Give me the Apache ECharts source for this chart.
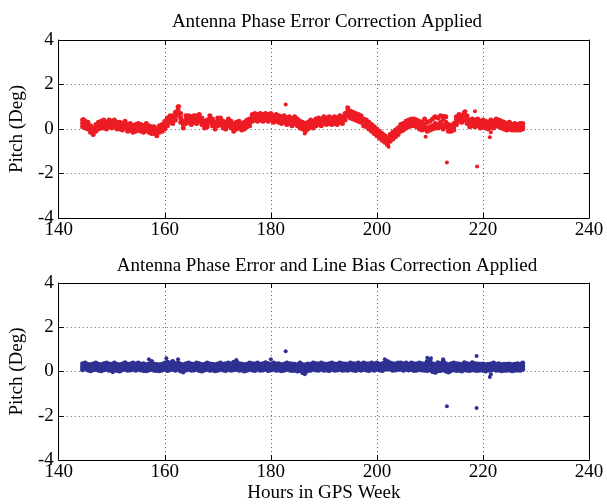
<!DOCTYPE html>
<html><head><meta charset="utf-8">
<script src="https://cdn.jsdelivr.net/npm/echarts@6/dist/echarts.min.js"></script>
<style>html,body{margin:0;padding:0;background:#fff}#c{width:607px;height:504px}</style>
</head><body><div id="c"></div>
<script>
// ---- data ----
const titles = ['Antenna Phase Error Correction Applied', 'Antenna Phase Error and Line Bias Correction Applied'];
const xLabel = 'Hours in GPS Week';
const yLabel = 'Pitch (Deg)';
const xTicks = [140, 160, 180, 200, 220, 240];
const yTicks = [-4, -2, 0, 2, 4];
const hourStart = 144.5, hourStep = 0.5;   // sampling grid of the dense tracks

// top panel: three hand-read rows through the dot cloud (mid, upper, lower)
const topMid = [
0.25,0.2,0.15,0.0,-0.1,0.05,0.15,0.2,0.2,0.15,
0.25,0.2,0.25,0.15,0.15,0.1,0.2,0.05,0.1,0.0,
0.05,0.1,0.05,0.0,0.1,0.0,-0.05,-0.05,-0.15,0.0,
0.05,0.15,0.3,0.45,0.4,0.55,0.85,0.5,0.2,0.4,
0.45,0.35,0.45,0.4,0.5,0.35,0.2,0.25,0.45,0.3,
0.15,0.3,0.35,0.2,0.15,0.3,0.2,0.05,0.15,0.2,
0.1,0.15,0.25,0.3,0.5,0.55,0.5,0.55,0.5,0.55,
0.5,0.55,0.45,0.5,0.45,0.4,0.45,0.35,0.4,0.3,
0.4,0.3,0.2,0.15,0.05,0.15,0.25,0.2,0.3,0.35,
0.3,0.4,0.35,0.4,0.35,0.4,0.35,0.45,0.4,0.55,
0.8,0.65,0.6,0.55,0.5,0.45,0.3,0.25,0.15,0.05,
-0.05,-0.15,-0.25,-0.35,-0.45,-0.55,-0.4,-0.3,-0.2,-0.1,
0.05,0.1,0.2,0.25,0.3,0.3,0.25,0.15,0.1,0.2,
0.05,0.1,0.15,0.25,0.2,0.3,0.15,0.3,0.05,0.0,
0.1,0.4,0.5,0.45,0.55,0.4,0.25,0.3,0.25,0.3,
0.2,0.25,0.2,0.15,0.25,0.2,0.3,0.25,0.2,0.15,
0.1,0.15,0.05,0.1,0.05,0.1,0.1];
const topHi = [
0.4,0.35,0.3,0.15,0.05,0.2,0.3,0.35,0.4,0.3,
0.4,0.35,0.4,0.3,0.3,0.25,0.35,0.2,0.25,0.15,
0.2,0.25,0.2,0.15,0.25,0.15,0.1,0.1,0.0,0.15,
0.2,0.35,0.5,0.6,0.6,0.75,1.0,0.7,0.35,0.6,
0.6,0.55,0.6,0.6,0.65,0.5,0.35,0.4,0.6,0.45,
0.3,0.5,0.5,0.35,0.3,0.45,0.35,0.2,0.3,0.35,
0.25,0.3,0.4,0.45,0.65,0.7,0.65,0.7,0.65,0.7,
0.65,0.7,0.6,0.65,0.6,0.55,0.6,0.5,0.55,0.45,
0.55,0.45,0.35,0.3,0.25,0.3,0.4,0.35,0.45,0.5,
0.45,0.55,0.5,0.55,0.5,0.55,0.5,0.6,0.55,0.7,
0.95,0.8,0.75,0.7,0.65,0.6,0.45,0.4,0.3,0.2,
0.1,0.0,-0.1,-0.2,-0.3,-0.4,-0.25,-0.15,-0.05,0.05,
0.2,0.25,0.35,0.4,0.45,0.45,0.4,0.35,0.3,0.45,
0.3,0.35,0.45,0.55,0.5,0.6,0.45,0.55,0.2,0.15,
0.25,0.55,0.65,0.6,0.75,0.6,0.4,0.45,0.4,0.45,
0.35,0.4,0.35,0.3,0.4,0.35,0.45,0.4,0.35,0.3,
0.25,0.3,0.2,0.25,0.2,0.25,0.25];
const topLo = [
0.1,0.05,0.0,-0.15,-0.25,-0.1,0.0,0.05,0.05,0.0,
0.1,0.05,0.1,0.0,0.0,-0.05,0.05,-0.1,-0.05,-0.15,
-0.1,-0.05,-0.1,-0.15,-0.05,-0.15,-0.2,-0.2,-0.3,-0.15,
-0.1,0.0,0.15,0.3,0.25,0.4,0.65,0.3,0.05,0.25,
0.3,0.2,0.3,0.25,0.35,0.2,0.05,0.1,0.3,0.15,
0.0,0.15,0.2,0.05,0.0,0.15,0.05,-0.1,0.0,0.05,
-0.05,0.0,0.1,0.15,0.35,0.4,0.35,0.4,0.35,0.4,
0.35,0.4,0.3,0.35,0.3,0.25,0.3,0.2,0.25,0.15,
0.25,0.15,0.05,0.0,-0.1,0.0,0.1,0.05,0.15,0.2,
0.15,0.25,0.2,0.25,0.2,0.25,0.2,0.3,0.25,0.4,
0.6,0.5,0.45,0.4,0.35,0.3,0.15,0.1,0.0,-0.1,
-0.2,-0.3,-0.4,-0.5,-0.6,-0.7,-0.55,-0.45,-0.35,-0.25,
-0.1,-0.05,0.05,0.1,0.15,0.15,0.1,0.0,-0.05,0.0,
-0.1,-0.05,0.0,0.05,0.05,0.1,0.0,0.1,-0.1,-0.1,
-0.05,0.2,0.35,0.3,0.4,0.25,0.1,0.15,0.1,0.15,
0.05,0.1,0.05,0.0,0.1,0.05,0.15,0.1,0.05,0.0,
-0.05,0.0,-0.05,-0.05,-0.05,-0.05,0.0];
const topOutlierHours  = [182.8, 213.2, 218.9, 221.3, 221.5, 216.7, 209.2, 186.4, 162.7, 202.2, 210.8, 212.6, 218.5, 144.7];
const topOutlierValues = [1.1, -1.5, -1.68, -0.37, -0.15, 0.8, -0.35, -0.2, 1.02, -0.8, 0.55, 0.6, 0.8, 0.45];

// bottom panel
const botMid = [
0.2,0.25,0.2,0.15,0.2,0.25,0.2,0.15,0.2,0.25,
0.2,0.2,0.25,0.2,0.15,0.2,0.25,0.2,0.2,0.25,
0.2,0.25,0.2,0.2,0.15,0.2,0.25,0.2,0.2,0.15,
0.2,0.25,0.2,0.25,0.3,0.2,0.25,0.2,0.15,0.2,
0.25,0.2,0.2,0.25,0.2,0.15,0.2,0.25,0.2,0.2,
0.15,0.2,0.25,0.2,0.2,0.25,0.2,0.25,0.3,0.2,
0.2,0.15,0.2,0.25,0.2,0.2,0.25,0.2,0.2,0.25,
0.2,0.2,0.25,0.2,0.2,0.15,0.2,0.25,0.2,0.2,
0.2,0.15,0.2,0.1,0.15,0.2,0.2,0.25,0.2,0.2,
0.25,0.2,0.2,0.2,0.25,0.2,0.2,0.25,0.2,0.2,
0.2,0.25,0.2,0.2,0.25,0.2,0.25,0.2,0.2,0.25,
0.2,0.25,0.2,0.2,0.25,0.3,0.25,0.2,0.2,0.25,
0.25,0.2,0.25,0.2,0.25,0.2,0.2,0.25,0.2,0.2,
0.25,0.3,0.2,0.15,0.2,0.2,0.25,0.2,0.15,0.2,
0.25,0.2,0.2,0.15,0.25,0.2,0.2,0.25,0.2,0.2,
0.2,0.2,0.15,0.2,0.2,0.25,0.2,0.2,0.15,0.2,
0.2,0.2,0.15,0.2,0.2,0.2,0.25];
const botHi = [
0.35,0.38,0.32,0.3,0.34,0.38,0.33,0.3,0.35,0.38,
0.34,0.33,0.38,0.32,0.3,0.34,0.4,0.33,0.34,0.38,
0.34,0.38,0.33,0.35,0.3,0.34,0.45,0.33,0.32,0.3,
0.33,0.38,0.42,0.38,0.45,0.35,0.4,0.33,0.3,0.35,
0.38,0.34,0.33,0.38,0.35,0.3,0.33,0.38,0.34,0.33,
0.3,0.34,0.38,0.33,0.35,0.38,0.34,0.42,0.45,0.35,
0.34,0.3,0.33,0.38,0.35,0.34,0.38,0.33,0.35,0.4,
0.35,0.33,0.38,0.34,0.35,0.3,0.33,0.38,0.35,0.34,
0.33,0.3,0.38,0.3,0.3,0.34,0.33,0.38,0.35,0.34,
0.38,0.34,0.33,0.35,0.38,0.34,0.33,0.38,0.35,0.34,
0.33,0.38,0.35,0.34,0.38,0.33,0.38,0.35,0.34,0.38,
0.34,0.38,0.33,0.35,0.4,0.45,0.38,0.35,0.34,0.38,
0.38,0.34,0.38,0.33,0.38,0.35,0.34,0.38,0.35,0.34,
0.45,0.48,0.35,0.3,0.4,0.35,0.45,0.35,0.3,0.35,
0.38,0.35,0.34,0.3,0.4,0.35,0.33,0.4,0.35,0.34,
0.33,0.34,0.3,0.33,0.34,0.38,0.33,0.35,0.3,0.33,
0.33,0.34,0.3,0.33,0.35,0.33,0.38];
const botLo = [
0.08,0.12,0.07,0.03,0.08,0.1,0.06,0.03,0.08,0.1,
0.06,0.07,0.1,0.05,0.02,0.08,0.1,0.06,0.07,0.1,
0.06,0.1,0.07,0.05,0.03,0.07,0.1,0.06,0.05,0.03,
0.07,0.1,0.05,0.08,0.1,0.06,0.1,0.02,0.03,0.07,
0.1,0.06,0.07,0.1,0.05,0.02,0.07,0.1,0.06,0.07,
0.03,0.06,0.1,0.07,0.05,0.1,0.06,0.08,0.1,0.06,
0.07,0.02,0.06,0.1,0.07,0.05,0.1,0.06,0.07,0.1,
0.05,0.07,0.1,0.06,0.07,0.03,0.06,0.1,0.07,0.05,
0.06,0.02,0.05,-0.05,-0.03,0.05,0.06,0.1,0.07,0.06,
0.1,0.06,0.07,0.05,0.1,0.06,0.07,0.1,0.06,0.07,
0.06,0.1,0.07,0.05,0.1,0.06,0.1,0.07,0.05,0.1,
0.06,0.1,0.07,0.05,0.1,0.12,0.1,0.06,0.07,0.1,
0.1,0.06,0.1,0.07,0.1,0.05,0.06,0.1,0.07,0.06,
0.05,0.08,0.0,-0.03,0.03,0.05,0.08,0.02,-0.02,0.05,
0.08,0.05,0.06,0.02,0.08,0.06,0.05,0.08,0.06,0.05,
0.07,0.06,0.02,0.06,0.07,0.1,0.06,0.07,0.03,0.06,
0.06,0.07,0.03,0.06,0.07,0.06,0.1];
const botOutlierHours  = [182.8, 213.2, 218.8, 218.8, 221.3, 221.5, 157.0, 160.3, 162.5, 173.5, 180.0, 201.5, 209.5, 210.2, 212.5, 186.4, 163.5, 150.2];
const botOutlierValues = [0.92, -1.57, -1.65, 0.7, -0.25, -0.12, 0.55, 0.6, 0.55, 0.52, 0.55, 0.55, 0.62, 0.6, 0.55, -0.12, -0.05, -0.03];

// ---- build ----
const FONT = 'Liberation Serif';
const RED = '#ed1c24', BLUE = '#2e3192';
function track(vals) { return vals.map((v, i) => [hourStart + i * hourStep, v]); }
function pairs(hs, vs) { return hs.map((h, i) => [h, vs[i]]); }

const grids = [
  {left: 55, top: 40, width: 534, height: 178},
  {left: 55, top: 283, width: 534, height: 179}
];
function xAxis(gi, main) {
  return {
    type: 'value', gridIndex: gi, min: xTicks[0], max: xTicks[xTicks.length - 1], interval: xTicks[1] - xTicks[0],
    position: main ? 'bottom' : 'top',
    axisLine: {show: true, onZero: false, lineStyle: {color: '#000', width: 1}},
    axisTick: {show: true, inside: true, length: 5, lineStyle: {color: '#000'}},
    axisLabel: {show: main, color: '#000', fontFamily: FONT, fontSize: 19, margin: 3},
    splitLine: {show: main, lineStyle: {color: '#666', type: [1, 3], width: 1}},
    name: (main && gi === 1) ? xLabel : '', nameLocation: 'middle', nameGap: 24,
    nameTextStyle: {color: '#000', fontFamily: FONT, fontSize: 19}
  };
}
function yAxis(gi, main) {
  return {
    type: 'value', gridIndex: gi, min: yTicks[0], max: yTicks[yTicks.length - 1], interval: yTicks[1] - yTicks[0],
    position: main ? 'left' : 'right',
    axisLine: {show: true, onZero: false, lineStyle: {color: '#000', width: 1}},
    axisTick: {show: true, inside: true, length: 5, lineStyle: {color: '#000'}},
    axisLabel: {show: main, color: '#000', fontFamily: FONT, fontSize: 19, margin: 5},
    splitLine: {show: main, lineStyle: {color: '#666', type: [1, 3], width: 1}},
    name: main ? yLabel : '', nameLocation: 'middle', nameGap: 26, nameRotate: 90,
    nameTextStyle: {color: '#000', fontFamily: FONT, fontSize: 19}
  };
}
function dots(data, gi, color, size) {
  return {type: 'scatter', xAxisIndex: gi, yAxisIndex: gi, data: data, symbol: 'circle', symbolSize: size,
    itemStyle: {color: color, opacity: 1}, silent: true, z: 3};
}

const option = {
  backgroundColor: '#fff',
  animation: false,
  title: [
    {text: titles[0], left: 322, top: 8, textAlign: 'center', textStyle: {fontFamily: FONT, fontSize: 19, fontWeight: 'normal', color: '#000'}},
    {text: titles[1], left: 322, top: 252, textAlign: 'center', textStyle: {fontFamily: FONT, fontSize: 19, fontWeight: 'normal', color: '#000'}}
  ],
  grid: grids.map(g => Object.assign({show: false, containLabel: false}, g)),
  xAxis: [xAxis(0, true), xAxis(1, true), xAxis(0, false), xAxis(1, false)],
  yAxis: [yAxis(0, true), yAxis(1, true), yAxis(0, false), yAxis(1, false)],
  series: [
    dots(track(topLo), 0, RED, 5), dots(track(topMid), 0, RED, 5), dots(track(topHi), 0, RED, 5), dots(pairs(topOutlierHours, topOutlierValues), 0, RED, 4),
    dots(track(botLo), 1, BLUE, 5), dots(track(botMid), 1, BLUE, 5), dots(track(botHi), 1, BLUE, 5), dots(pairs(botOutlierHours, botOutlierValues), 1, BLUE, 4)
  ]
};
const chart = echarts.init(document.getElementById('c'), null, {renderer: 'canvas'});
chart.setOption(option);
</script>
</body></html>
